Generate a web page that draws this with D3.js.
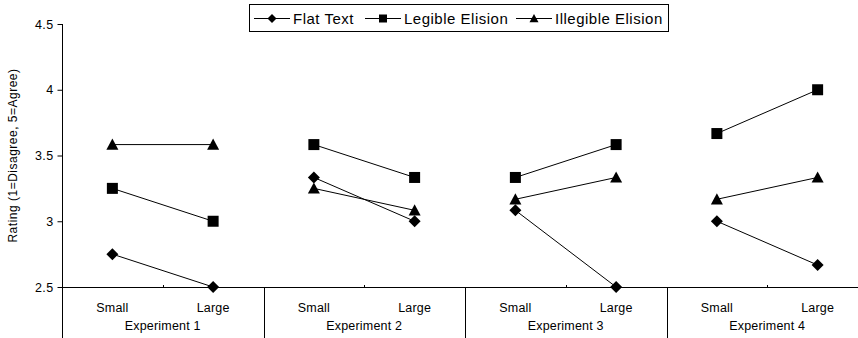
<!DOCTYPE html>
<html>
<head>
<meta charset="utf-8">
<script src="https://cdn.jsdelivr.net/npm/d3@7/dist/d3.min.js"></script>
<style>
  html, body { margin: 0; padding: 0; background: #fff; }
  svg { display: block; font-family: Arial, "Liberation Sans", sans-serif; }
</style>
</head>
<body>
<svg id="chart" width="858" height="338"></svg>
<script>
// Ratings per experiment, each with a Small and a Large condition
const experiments = ["Experiment 1", "Experiment 2", "Experiment 3", "Experiment 4"];
const sizes = ["Small", "Large"];
const flatText        = [2.75, 2.5, 3.333, 3.0, 3.083, 2.5, 3.0, 2.667];
const legibleElision  = [3.25, 3.0, 3.583, 3.333, 3.333, 3.583, 3.667, 4.0];
const illegibleElision = [3.583, 3.583, 3.25, 3.083, 3.167, 3.333, 3.167, 3.333];
const seriesNames = ["Flat Text", "Legible Elision", "Illegible Elision"];
const yTicks = [2.5, 3, 3.5, 4, 4.5];
const yTickLabels = ["2.5", "3", "3.5", "4", "4.5"];
const yTitle = "Rating (1=Disagree, 5=Agree)";

const svg = d3.select("#chart");
const W = 858, H = 338;
const plotL = 62, plotR = 868, plotT = 24, plotB = 287;

// one slot per (experiment, size) pair
const slots = [];
experiments.forEach((e, gi) => sizes.forEach((s, si) => slots.push({ key: gi + "-" + si, exp: e, size: s, gi })));

const x = d3.scaleBand().domain(slots.map(d => d.key)).range([plotL, plotR]).paddingInner(0).paddingOuter(0);
const y = d3.scaleLinear().domain([2.5, 4.5]).range([plotB, plotT]);
const cx = k => x(k) + x.bandwidth() / 2;

const series = [
  { name: seriesNames[0], values: flatText, shape: "diamond" },
  { name: seriesNames[1], values: legibleElision, shape: "square" },
  { name: seriesNames[2], values: illegibleElision, shape: "triangle" }
];

function markerPath(shape, s) {
  // s = half-size
  if (shape === "diamond") return `M0,${-s}L${s},0L0,${s}L${-s},0Z`;
  if (shape === "square") return `M${-s},${-s}H${s}V${s}H${-s}Z`;
  return `M0,${-s}L${s},${s * 0.85}L${-s},${s * 0.85}Z`;
}

// Y axis
const yAxis = d3.axisLeft(y).tickValues(yTicks).tickFormat((d, i) => yTickLabels[i]).tickSizeOuter(0).tickSize(5).tickPadding(4);
const gy = svg.append("g").attr("transform", `translate(${plotL + 0.5},0)`).call(yAxis);
gy.select(".domain").remove();
gy.selectAll("line").attr("stroke", "#000");
gy.selectAll("text").attr("font-size", 12.5).attr("letter-spacing", 0.4).attr("fill", "#000");
svg.append("line").attr("x1", plotL + 0.5).attr("x2", plotL + 0.5).attr("y1", plotT).attr("y2", H)
  .attr("stroke", "#000").attr("stroke-width", 1);

// Y title
svg.append("text")
  .attr("transform", `translate(17,${(plotT + plotB) / 2}) rotate(-90)`)
  .attr("text-anchor", "middle").attr("font-size", 12).attr("letter-spacing", 0.5).attr("fill", "#000")
  .text(yTitle);

// X axis line
svg.append("line").attr("x1", plotL).attr("x2", W).attr("y1", plotB + 0.5).attr("y2", plotB + 0.5)
  .attr("stroke", "#000").attr("stroke-width", 1);

// minor ticks between Small and Large within each experiment
experiments.forEach((e, gi) => {
  const bx = Math.round(x(gi + "-1")) + 0.5;
  svg.append("line").attr("x1", bx).attr("x2", bx).attr("y1", plotB - 2).attr("y2", plotB)
    .attr("stroke", "#000");
});

// experiment separators extending below the axis
experiments.forEach((e, gi) => {
  if (gi === 0) return;
  const bx = Math.round(x(gi + "-0")) + 0.5;
  svg.append("line").attr("x1", bx).attr("x2", bx).attr("y1", plotB).attr("y2", H)
    .attr("stroke", "#000").attr("stroke-width", 1);
});

// size labels
svg.append("g").selectAll("text").data(slots).join("text")
  .attr("x", d => cx(d.key)).attr("y", plotB + 25)
  .attr("text-anchor", "middle").attr("font-size", 12.5).attr("letter-spacing", 0.2).attr("fill", "#000")
  .text(d => d.size);

// experiment labels
svg.append("g").selectAll("text").data(experiments).join("text")
  .attr("x", (d, gi) => (x(gi + "-0") + x(gi + "-1") + x.bandwidth()) / 2)
  .attr("y", plotB + 43)
  .attr("text-anchor", "middle").attr("font-size", 12.5).attr("letter-spacing", 0.2).attr("fill", "#000")
  .text(d => d);

// series lines, one segment per experiment
const line = d3.line().x(d => cx(d.key)).y(d => y(d.v));
series.forEach(s => {
  experiments.forEach((e, gi) => {
    const pts = [0, 1].map(si => ({ key: gi + "-" + si, v: s.values[gi * 2 + si] }));
    svg.append("path").datum(pts).attr("d", line)
      .attr("fill", "none").attr("stroke", "#000").attr("stroke-width", 1);
  });
});

// markers
const markerSize = { diamond: 6, square: 5.5, triangle: 6 };
series.forEach(s => {
  svg.append("g").selectAll("path").data(slots.map((d, i) => ({ key: d.key, v: s.values[i] }))).join("path")
    .attr("transform", d => `translate(${cx(d.key)},${y(d.v)})`)
    .attr("d", markerPath(s.shape, markerSize[s.shape]))
    .attr("fill", "#000");
});

// legend
const lg = svg.append("g");
lg.append("rect").attr("x", 249.5).attr("y", 4.5).attr("width", 419).attr("height", 27)
  .attr("fill", "#fff").attr("stroke", "#000").attr("stroke-width", 1);
const legendX = [254, 365, 516];
series.forEach((s, i) => {
  const x0 = legendX[i];
  lg.append("line").attr("x1", x0).attr("x2", x0 + 36).attr("y1", 18.5).attr("y2", 18.5).attr("stroke", "#000");
  lg.append("path").attr("transform", `translate(${x0 + 18},18.5)`)
    .attr("d", markerPath(s.shape, s.shape === "square" ? 4 : 4.5)).attr("fill", "#000");
  lg.append("text").attr("x", x0 + 39).attr("y", 24).attr("font-size", 15).attr("letter-spacing", 0.5).attr("fill", "#000")
    .text(s.name);
});
</script>
</body>
</html>
